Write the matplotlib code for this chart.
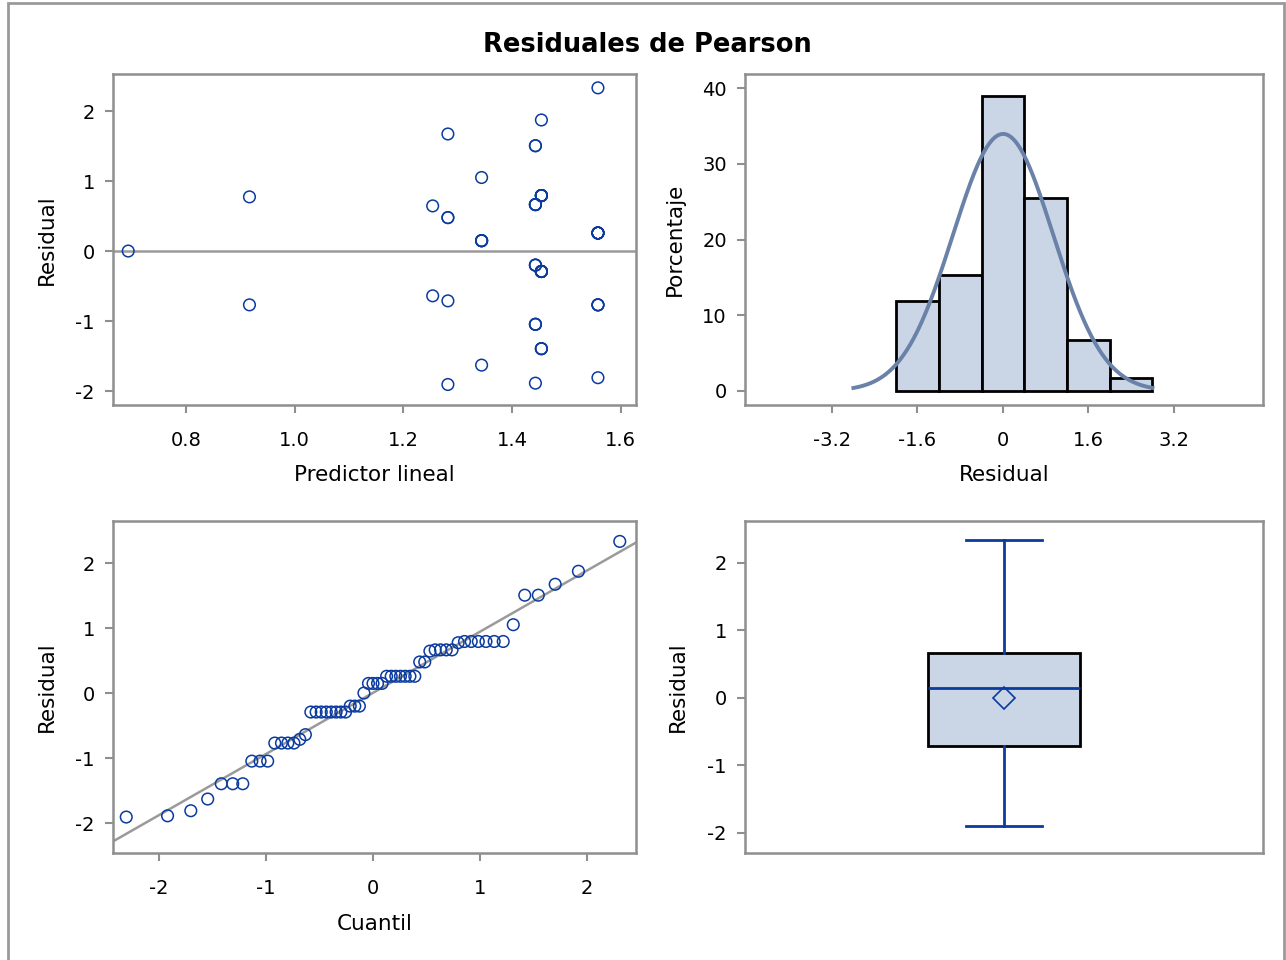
import matplotlib
matplotlib.use("Agg")
import matplotlib.pyplot as plt
import numpy as np
from matplotlib.patches import Rectangle
from statistics import NormalDist

# --- datos (predictor, residual, repeticiones) ---
pred_vals = [0.694, 0.917, 0.917, 1.254, 1.254, 1.282, 1.282, 1.282, 1.282,
             1.344, 1.344, 1.344, 1.443, 1.443, 1.443, 1.443, 1.443,
             1.454, 1.454, 1.454, 1.454, 1.558, 1.558, 1.558, 1.558]
resid_vals = [0.000, 0.774, -0.769, 0.645, -0.640, 1.673, 0.478, -0.712, -1.907,
              1.051, 0.148, -1.630, 1.505, 0.664, -0.201, -1.047, -1.888,
              1.873, 0.793, -0.292, -1.395, 2.332, 0.258, -0.769, -1.810]
counts = [1, 1, 1, 1, 1, 1, 2, 1, 1,
          1, 4, 1, 2, 4, 3, 3, 1,
          1, 6, 8, 3, 1, 7, 3, 1]

bin_edges = [-2.0, -1.2, -0.4, 0.4, 1.2, 2.0, 2.8]
hist_ticks = [-3.2, -1.6, 0, 1.6, 3.2]
pred_ticks = [0.8, 1.0, 1.2, 1.4, 1.6]

BLUE = '#0b3b9f'
GRAY = '#8f8f8f'
FILL = '#cad5e5'
CURVE = '#6a82a8'

plt.rcParams['font.family'] = ['DejaVu Sans']
plt.rcParams['axes.unicode_minus'] = False

pred = np.repeat(pred_vals, counts)
resid = np.repeat(resid_vals, counts)
n = len(resid)
mu, sd = resid.mean(), resid.std(ddof=1)

W, H = 1286, 960
fig = plt.figure(figsize=(W / 100, H / 100), dpi=100)


def make_ax(x0, y0, x1, y1):
    ax = fig.add_axes([x0 / W, 1 - y1 / H, (x1 - x0) / W, (y1 - y0) / H])
    for s in ax.spines.values():
        s.set_color(GRAY)
        s.set_linewidth(1.8)
    ax.tick_params(axis='both', colors=GRAY, labelcolor='black', length=6,
                   width=1.5, labelsize=14)
    ax.tick_params(axis='x', pad=12.5)
    ax.tick_params(axis='y', pad=7)
    return ax


# --- residual vs predictor ---
ax1 = make_ax(113, 74, 636, 405)
ax1.axhline(0, color='#9a9a9a', lw=1.8, zorder=1)
ax1.scatter(pred, resid, s=70, facecolors='none', edgecolors=BLUE,
            linewidths=1.1, zorder=3)
ax1.set_xlim(0.666, 1.628)
ax1.set_ylim(-2.2, 2.53)
ax1.set_xticks(pred_ticks)
ax1.set_xticklabels([f'{t:.1f}' for t in pred_ticks])
ax1.set_yticks([-2, -1, 0, 1, 2])
ax1.set_xlabel('Predictor lineal', fontsize=15.5, labelpad=11)
ax1.set_ylabel('Residual', fontsize=15.5, labelpad=13.5)

# --- histograma con curva normal ---
ax2 = make_ax(745, 74, 1263, 405)
ax2.hist(resid, bins=bin_edges, weights=np.full(n, 100.0 / n),
         color=FILL, edgecolor='black', linewidth=2, zorder=2)
grid = np.linspace(-2.8, 2.8, 300)
nd_fit = NormalDist(mu, sd)
dens = np.array([nd_fit.pdf(g) for g in grid])
ax2.plot(grid, dens * 0.8 * 100, color=CURVE, lw=2.8, zorder=3)
ax2.set_xlim(-4.83, 4.87)
ax2.set_ylim(-1.85, 41.85)
ax2.set_xticks(hist_ticks)
ax2.set_xticklabels(['-3.2', '-1.6', '0', '1.6', '3.2'])
ax2.set_yticks([0, 10, 20, 30, 40])
ax2.set_xlabel('Residual', fontsize=15.5, labelpad=11)
ax2.set_ylabel('Porcentaje', fontsize=15.5, labelpad=12.5)

# --- grafico Q-Q ---
ax3 = make_ax(113, 521, 636, 853)
srt = np.sort(resid)
nd = NormalDist()
quant = np.array([nd.inv_cdf((i - 0.375) / (n + 0.25)) for i in range(1, n + 1)])
xl = np.array([-2.43, 2.458])
ax3.plot(xl, mu + sd * xl, color='#9a9a9a', lw=1.8, zorder=1)
ax3.scatter(quant, srt, s=70, facecolors='none', edgecolors=BLUE,
            linewidths=1.1, zorder=3)
ax3.set_xlim(-2.43, 2.458)
ax3.set_ylim(-2.46, 2.646)
ax3.set_xticks([-2, -1, 0, 1, 2])
ax3.set_yticks([-2, -1, 0, 1, 2])
ax3.set_xlabel('Cuantil', fontsize=15.5, labelpad=11.5)
ax3.set_ylabel('Residual', fontsize=15.5, labelpad=13.5)

# --- diagrama de caja ---
ax4 = make_ax(745, 521, 1263, 853)
q1, med, q3 = np.percentile(resid, [25, 50, 75], method='inverted_cdf')
stats = [dict(med=med, q1=q1, q3=q3, whislo=resid.min(), whishi=resid.max(),
              mean=mu, fliers=[])]
ax4.bxp(stats, positions=[1], widths=0.587, showmeans=True, patch_artist=True,
        boxprops=dict(facecolor=FILL, edgecolor='black', linewidth=2),
        whiskerprops=dict(color=BLUE, linewidth=2),
        capprops=dict(color=BLUE, linewidth=2),
        medianprops=dict(color=BLUE, linewidth=2),
        meanprops=dict(marker='D', markerfacecolor='none', markeredgecolor=BLUE,
                       markersize=11, markeredgewidth=1.2),
        capwidths=0.29)
ax4.set_xlim(0, 2)
ax4.set_ylim(-2.30, 2.62)
ax4.set_xticks([])
ax4.set_yticks([-2, -1, 0, 1, 2])
ax4.set_ylabel('Residual', fontsize=15.5, labelpad=14)

fig.text(647 / W, 1 - 45 / H, 'Residuales de Pearson', ha='center', va='center',
         fontsize=18.5, fontweight='bold')

fig.patches.append(Rectangle((8 / W, -0.05), (1284 - 8) / W, 1.05 - 3 / H,
                             transform=fig.transFigure, fill=False,
                             edgecolor='#9a9a9a', linewidth=2))

fig.savefig('out.png', dpi=100)
